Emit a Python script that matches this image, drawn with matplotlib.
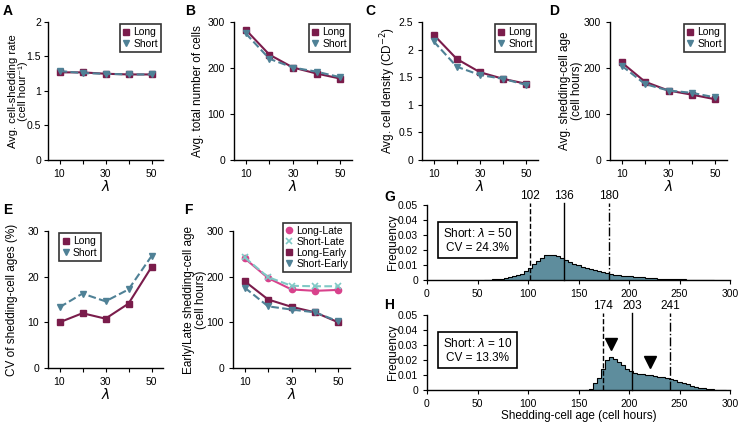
"""Shedding-cell age panels A-H"""

import numpy as np
import matplotlib
matplotlib.use('Agg')
import matplotlib.pyplot as plt
from matplotlib.ticker import FormatStrFormatter

plt.rcParams['font.family'] = ['Liberation Sans', 'DejaVu Sans']
plt.rcParams['font.size'] = 7.5
plt.rcParams['axes.linewidth'] = 1.0
plt.rcParams['xtick.major.size'] = 3
plt.rcParams['ytick.major.size'] = 3
plt.rcParams['mathtext.fontset'] = 'dejavusans'

# lambda values used on every line panel
lam = [10, 20, 30, 40, 50]

# A: shedding rate
rate_long = [1.27, 1.27, 1.25, 1.24, 1.24]
rate_short = [1.29, 1.26, 1.25, 1.24, 1.24]
# B: total number of cells
cells_long = [283, 229, 201, 188, 177]
cells_short = [275, 220, 201, 192, 180]
# C: cell density
dens_long = [2.27, 1.83, 1.59, 1.47, 1.38]
dens_short = [2.15, 1.69, 1.54, 1.47, 1.36]
# D: shedding-cell age
age_long = [212, 170, 151, 142, 132]
age_short = [205, 165, 151, 146, 136]
# E: CV of shedding-cell ages (%)
cv_long = [10.0, 12.0, 10.8, 14.1, 22.1]
cv_short = [13.3, 16.3, 14.6, 17.2, 24.5]
# F: early / late shedding-cell age
long_late = [240, 197, 172, 169, 171]
short_late = [242, 199, 180, 179, 179]
long_early = [190, 150, 134, 122, 100]
short_early = [176, 135, 128, 122, 102]

# G/H histograms: density per 4-hour bin
bin_w = 4
g_start = 56
g_freq = [0.0001, 0.0002, 0.0004, 0.0006, 0.0009, 0.0013, 0.0018, 0.0024, 0.0031,
          0.0042, 0.0058, 0.0080, 0.0110, 0.0130, 0.0150, 0.0165, 0.0170, 0.0166,
          0.0158, 0.0146, 0.0134, 0.0122, 0.0110, 0.0098, 0.0088, 0.0079, 0.0072,
          0.0065, 0.0058, 0.0051, 0.0045, 0.0040, 0.0035, 0.0032, 0.0029, 0.0026,
          0.0024, 0.0022, 0.0020, 0.0018, 0.0016, 0.0014, 0.0012, 0.0010, 0.0009,
          0.0008, 0.0007, 0.0006, 0.0005, 0.0004, 0.0003, 0.0003, 0.0002, 0.0002,
          0.0001, 0.0001, 0.0001]
h_start = 156
h_freq = [0.0003, 0.0010, 0.0044, 0.0078, 0.0138, 0.0200, 0.0222, 0.0210, 0.0190,
          0.0165, 0.0140, 0.0125, 0.0115, 0.0108, 0.0104, 0.0100, 0.0097, 0.0094,
          0.0090, 0.0085, 0.0079, 0.0072, 0.0064, 0.0055, 0.0046, 0.0037, 0.0029,
          0.0022, 0.0016, 0.0011, 0.0008, 0.0005, 0.0003, 0.0002, 0.0001]
g_lines = [102, 136, 180]
h_lines = [174, 203, 241]
h_arrows_x = [182, 221]
h_arrows_y = [0.031, 0.019]

c_long = '#7a1c4b'
c_short = '#4f8196'
c_llate = '#d8428c'
c_slate = '#80c9c6'
c_hist = '#5e8d9d'

W, H = 740, 422
fig = plt.figure(figsize=(W / 100, H / 100), dpi=100)


def px_axes(x0, x1, y0, y1):
    return fig.add_axes([x0 / W, 1 - y1 / H, (x1 - x0) / W, (y1 - y0) / H])


def place_ylabel(ax, right_px):
    # right edge of the rotated label, in figure pixels
    x0 = ax.get_position().x0 * W
    w = ax.get_position().width * W
    ax.yaxis.set_label_coords((right_px - x0) / w, 0.5)


def style_line_ax(ax, ymax, ystep, ylabel, right_px, fmt='%g', lsize=8.5, lsp=1.1):
    ax.spines['top'].set_visible(False)
    ax.spines['right'].set_visible(False)
    ax.set_xlim(5, 55)
    ax.set_ylim(0, ymax)
    ax.set_xticks(lam)
    ax.set_xticklabels(['10', '', '30', '', '50'])
    ax.set_yticks(np.arange(0, ymax + ystep / 2, ystep))
    ax.yaxis.set_major_formatter(FormatStrFormatter(fmt))
    ax.set_xlabel(r'$\lambda$', fontsize=10, labelpad=0)
    ax.set_ylabel(ylabel, fontsize=lsize, linespacing=lsp)
    place_ylabel(ax, right_px)


def long_short(ax, ylong, yshort, loc='upper right'):
    ax.plot(lam, ylong, '-s', color=c_long, lw=1.5, ms=4.5, label='Long')
    ax.plot(lam, yshort, '--v', color=c_short, lw=1.5, ms=4.5, label='Short')
    leg = ax.legend(loc=loc, fontsize=7.5, frameon=True, fancybox=False,
                    handlelength=0.6, handletextpad=0.4, borderpad=0.3,
                    labelspacing=0.15, borderaxespad=0.2)
    for h in leg.legend_handles:
        h.set_linestyle('')
    leg.get_frame().set_edgecolor('black')
    leg.get_frame().set_linewidth(1.2)


# A
axA = px_axes(48, 163, 22, 160)
long_short(axA, rate_long, rate_short)
axA.tick_params(axis='y', pad=2)
style_line_ax(axA, 2, 0.5, 'Avg. cell-shedding rate\n(cell hour\u207b\u00b9)', 28,
              lsize=8, lsp=1.05)

# B
axB = px_axes(234, 352, 22, 160)
long_short(axB, cells_long, cells_short)
style_line_ax(axB, 300, 100, 'Avg. total number of cells', 204)

# C
axC = px_axes(422, 538, 22, 160)
long_short(axC, dens_long, dens_short)
style_line_ax(axC, 2.5, 0.5, 'Avg. cell density (CD$^{-2}$)', 398)

# D
axD = px_axes(610, 727, 22, 160)
long_short(axD, age_long, age_short)
style_line_ax(axD, 300, 100, 'Avg. shedding-cell age\n(cell hours)', 583, lsp=1.05)

# E
axE = px_axes(48, 163, 231, 368)
long_short(axE, cv_long, cv_short, loc='upper left')
axE.get_legend().set_bbox_to_anchor((0.08, 1.0))
style_line_ax(axE, 30, 10, 'CV of shedding-cell ages (%)', 18)

# F
axF = px_axes(233, 350, 231, 368)
axF.plot(lam, long_late, '-o', color=c_llate, lw=1.5, ms=4.5, label='Long-Late')
axF.plot(lam, short_late, '--x', color=c_slate, lw=1.5, ms=4.5, mew=1.2, label='Short-Late')
axF.plot(lam, long_early, '-s', color=c_long, lw=1.5, ms=4.5, label='Long-Early')
axF.plot(lam, short_early, '--v', color=c_short, lw=1.5, ms=4.5, label='Short-Early')
legF = axF.legend(loc='upper right', fontsize=7.5, frameon=True, fancybox=False,
                  handlelength=0.6, handletextpad=0.4, borderpad=0.3,
                  labelspacing=0.1, borderaxespad=0.0, bbox_to_anchor=(1.01, 1.06))
for h in legF.legend_handles:
    h.set_linestyle('')
legF.get_frame().set_edgecolor('black')
legF.get_frame().set_linewidth(1.2)
style_line_ax(axF, 300, 100, 'Early/Late shedding-cell age\n(cell hours)', 207, lsp=1.05)


def hist_panel(ax, start, freq, vlines, boxtext, xlabel=None):
    edges = start + bin_w * np.arange(len(freq) + 1)
    ax.stairs(freq, edges, fill=True, color=c_hist, lw=0)
    ax.stairs(freq, edges, color='black', lw=0.8)
    ax.set_xlim(0, 300)
    ax.set_ylim(0, 0.05)
    ax.set_xticks(np.arange(0, 301, 50))
    ax.set_yticks(np.arange(0, 0.051, 0.01))
    ax.yaxis.set_major_formatter(FormatStrFormatter('%g'))
    ax.spines['top'].set_visible(False)
    ax.spines['right'].set_visible(False)
    ax.set_ylabel('Frequency', fontsize=8.5)
    place_ylabel(ax, 399)
    for v, ls in zip(vlines, ['--', '-', '-.']):
        ax.plot([v, v], [0, 0.0515], ls=ls, color='black', lw=1.0, clip_on=False)
        ax.text(v, 0.0518, str(v), ha='center', va='bottom', fontsize=8.5)
    ax.text(50, 0.0265, boxtext, ha='center', va='center', fontsize=8.5,
            linespacing=1.2,
            bbox=dict(boxstyle='square,pad=0.4', fc='white', ec='black', lw=1.2))
    if xlabel:
        ax.set_xlabel(xlabel, fontsize=8.5, labelpad=1)


axG = px_axes(427, 730, 205, 280)
hist_panel(axG, g_start, g_freq, g_lines, 'Short: $\\lambda$ = 50\nCV = 24.3%')

axH = px_axes(427, 730, 315, 390)
hist_panel(axH, h_start, h_freq, h_lines, 'Short: $\\lambda$ = 10\nCV = 13.3%',
           xlabel='Shedding-cell age (cell hours)')
axH.plot(h_arrows_x, h_arrows_y, 'v', color='black', ms=8)

# panel letters
for lab, x, y in [('A', 3, 4), ('B', 185, 4), ('C', 365, 4), ('D', 549, 4),
                  ('E', 3, 203), ('F', 184, 203), ('G', 384, 190), ('H', 384, 298)]:
    fig.text(x / W, 1 - y / H, lab, fontsize=10, fontweight='bold', va='top', ha='left')

fig.savefig('out.png', dpi=100)
